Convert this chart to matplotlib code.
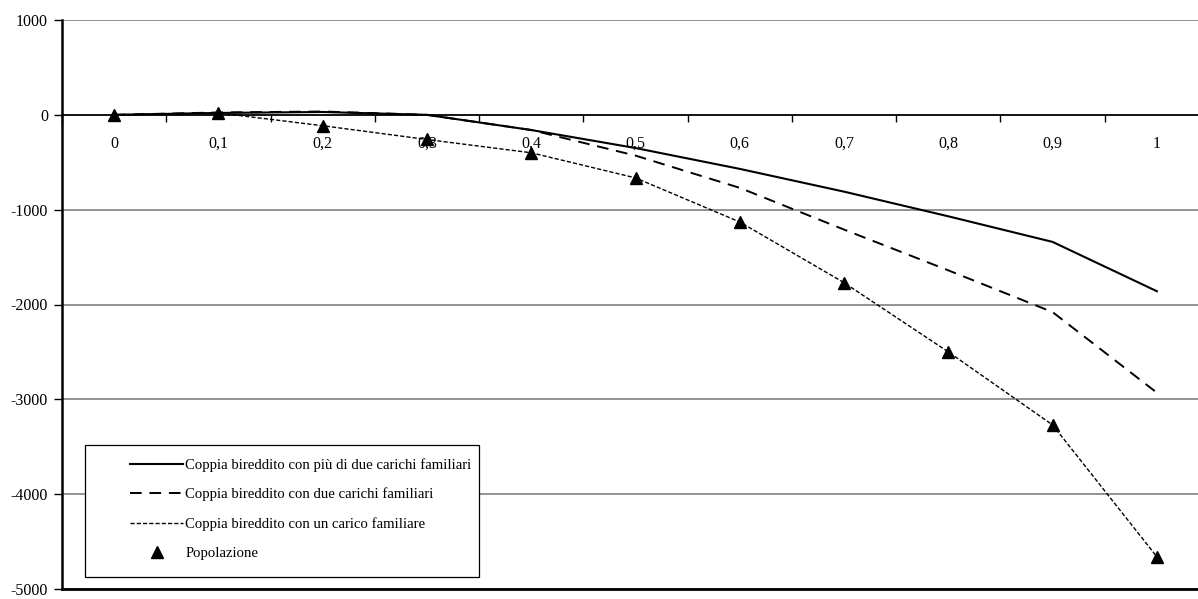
import matplotlib
matplotlib.use("Agg")
import matplotlib.pyplot as plt
from matplotlib.patches import Rectangle
import numpy as np

categories = ["0", "0,1", "0,2", "0,3", "0,4", "0,5", "0,6", "0,7", "0,8", "0,9", "1"]
piu_di_due = [0, 20, 30, 0, -160, -350, -570, -810, -1070, -1340, -1860]
due_carichi = [0, 25, 35, 0, -160, -430, -770, -1210, -1640, -2080, -2930]
un_carico = [0, 20, -115, -260, -400, -665, -1130, -1770, -2500, -3270, -4660]
popolazione = [0, 20, -115, -260, -400, -665, -1130, -1770, -2500, -3270, -4660]
y_ticks = [1000, 0, -1000, -2000, -3000, -4000, -5000]

labels = ["Coppia bireddito con più di due carichi familiari",
          "Coppia bireddito con due carichi familiari",
          "Coppia bireddito con un carico familiare",
          "Popolazione"]

plt.rcParams['font.family'] = ['Liberation Serif', 'DejaVu Serif']

W, H = 1198, 599
fig = plt.figure(figsize=(W / 100, H / 100), dpi=100)
left, right, top, bottom = 62, 1209, 20, 589
ax = fig.add_axes([left / W, 1 - bottom / H, (right - left) / W, (bottom - top) / H])

x = np.arange(len(categories))
l1, = ax.plot(x, piu_di_due, color='black', lw=1.5, ls='-')
l2, = ax.plot(x, due_carichi, color='black', lw=1.4, ls=(0, (6, 4)))
l3, = ax.plot(x, un_carico, color='black', lw=1.0, ls=(0, (3, 1.5)))
l4, = ax.plot(x, popolazione, color='black', lw=0, marker='^', ms=9)

ax.set_xlim(-0.5, len(categories) - 0.5)
ax.set_ylim(-5000, 1000)
ax.set_yticks(y_ticks)
ax.set_yticklabels([str(v) for v in y_ticks], fontsize=11.5)
ax.yaxis.grid(True, color='#808080', lw=1.2)
ax.set_axisbelow(True)

ax.spines['bottom'].set_position(('data', 0))
ax.spines['bottom'].set_linewidth(1.2)
ax.spines['left'].set_linewidth(1.8)
ax.spines['top'].set_visible(False)
ax.spines['right'].set_visible(False)
ax.axhline(-5000, color='black', lw=2, clip_on=False)

ax.set_xticks(x)
ax.set_xticklabels(categories, fontsize=11.5)
ax.tick_params(axis='x', which='major', length=0, pad=15)
ax.set_xticks(np.arange(-0.5, len(categories)), minor=True)
ax.tick_params(axis='x', which='minor', length=5, direction='out', width=1)
ax.tick_params(axis='y', length=6, width=1, direction='out', pad=4)

# legend frame
rect = Rectangle((85 / W, 1 - 577 / H), (479 - 85) / W, (577 - 445) / H,
                 transform=fig.transFigure, fill=True, facecolor='white',
                 edgecolor='black', lw=0.9, zorder=5)
fig.patches.append(rect)
leg = fig.legend([l1, l2, l3, l4], labels, loc='upper left',
                 bbox_to_anchor=(130 / W, 1 - 458 / H), frameon=False,
                 fontsize=10.6, handlelength=3.6, handletextpad=0.15,
                 labelspacing=1.08, borderpad=0, borderaxespad=0)
leg.set_zorder(6)

fig.savefig("out.png", dpi=100)
